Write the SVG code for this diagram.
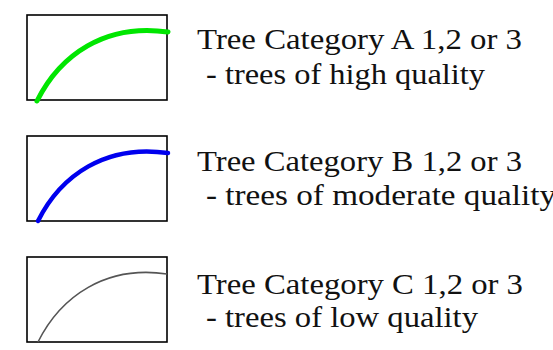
<svg xmlns="http://www.w3.org/2000/svg" width="553" height="350" viewBox="0 0 553 350">
<style>
.box{fill:#fff;stroke:#000;stroke-width:1.6}
.lbl{font-family:"Liberation Serif","Times New Roman",serif;font-size:29.5px;fill:#111}
.cA{fill:none;stroke:#00e600;stroke-width:5;stroke-linecap:round}
.cB{fill:none;stroke:#0000ee;stroke-width:4.5;stroke-linecap:round}
.cC{fill:none;stroke:#555;stroke-width:1.6}
</style>
<rect width="553" height="350" fill="#fff"/>
<g id="nodeA">
<rect class="box" x="27" y="15" width="140" height="85"/>
<path class="cA" d="M37,101 C60,55 105,23 168,32"/>
<text class="lbl" x="197" y="49" textLength="325" lengthAdjust="spacingAndGlyphs">Tree Category A 1,2 or 3</text>
<text class="lbl" x="206" y="84" textLength="279" lengthAdjust="spacingAndGlyphs">- trees of high quality</text>
</g>
<g id="nodeB">
<rect class="box" x="27" y="136" width="140" height="85"/>
<path class="cB" d="M38,221 C61,175 106,144 168,153"/>
<text class="lbl" x="197" y="171" textLength="325" lengthAdjust="spacingAndGlyphs">Tree Category B 1,2 or 3</text>
<text class="lbl" x="206" y="205" textLength="350" lengthAdjust="spacingAndGlyphs">- trees of moderate quality</text>
</g>
<g id="nodeC">
<rect class="box" x="27" y="257" width="140" height="85"/>
<path class="cC" d="M38,342 C61,296 106,265 167,274"/>
<text class="lbl" x="197" y="294" textLength="326" lengthAdjust="spacingAndGlyphs">Tree Category C 1,2 or 3</text>
<text class="lbl" x="206" y="327" textLength="272" lengthAdjust="spacingAndGlyphs">- trees of low quality</text>
</g>
<g id="connectors"></g>
</svg>
